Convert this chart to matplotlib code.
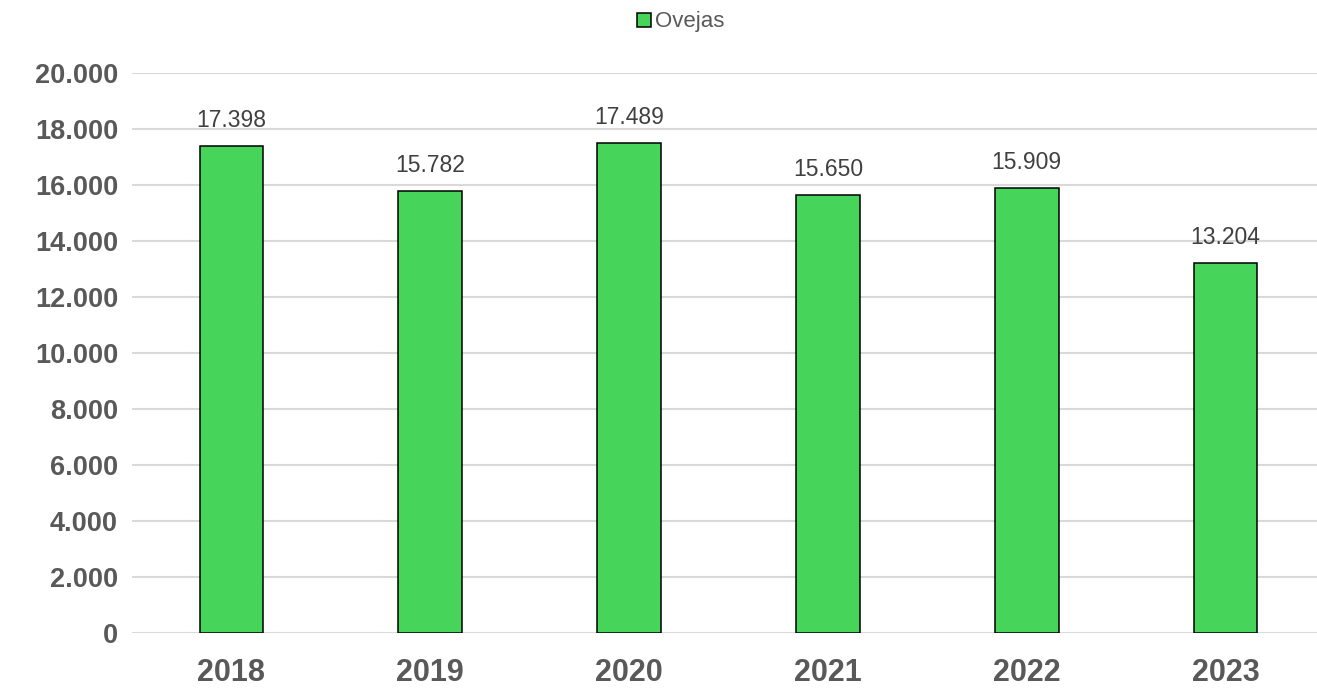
#!/usr/bin/env python3
import matplotlib
matplotlib.use("Agg")
import matplotlib.pyplot as plt
from matplotlib.ticker import FuncFormatter, MultipleLocator
from matplotlib.patches import Patch

# --- Data ---
years = ["2018", "2019", "2020", "2021", "2022", "2023"]
ovejas = [17398, 15782, 17489, 15650, 15909, 13204]
series_name = "Ovejas"

# --- Styling ---
plt.rcParams.update({
  "font.family": ["Liberation Sans", "DejaVu Sans"],
})
bar_color = "#47D45A"
grid_color = "#D9D9D9"
tick_color = "#595959"
label_color = "#404040"


def es_thousands(v, pos=None):
  return f"{int(round(v)):,}".replace(",", ".")


fig = plt.figure(figsize=(13.17, 6.88), dpi=100)
ax = fig.add_axes([132 / 1317, 1 - 633 / 688, 1193 / 1317, (633 - 73) / 688])

x = range(len(years))
bars = ax.bar(x, ovejas, width=0.32, color=bar_color, edgecolor="black",
              linewidth=1.1, zorder=3)

for xi, v in zip(x, ovejas):
  ax.annotate(es_thousands(v), (xi, v), xytext=(0, 10), textcoords="offset points",
              ha="center", va="bottom", fontsize=16.5, color=label_color)

ax.set_xlim(-0.5, len(years) - 0.5)
ax.set_ylim(0, 20000)
ax.yaxis.set_major_locator(MultipleLocator(2000))
ax.yaxis.set_major_formatter(FuncFormatter(es_thousands))
ax.set_xticks(list(x))
ax.set_xticklabels(years)

ax.tick_params(axis="y", length=0, pad=10, labelsize=19.5, labelcolor=tick_color)
ax.tick_params(axis="x", length=0, pad=18, labelsize=22, labelcolor=tick_color)
for lbl in ax.get_xticklabels() + ax.get_yticklabels():
  lbl.set_fontweight("bold")

ax.grid(True, axis="y", color=grid_color, linewidth=1.5, zorder=0)
ax.set_axisbelow(True)
for s in ax.spines.values():
  s.set_visible(False)

handle = Patch(facecolor=bar_color, edgecolor="black", linewidth=1.1)
fig.legend([handle], [series_name], loc="center", bbox_to_anchor=(681 / 1317, 1 - 22 / 688),
           frameon=False, fontsize=16, labelcolor=tick_color,
           handlelength=0.6, handleheight=0.6, handletextpad=0.2)

fig.savefig("out.png", dpi=100)
